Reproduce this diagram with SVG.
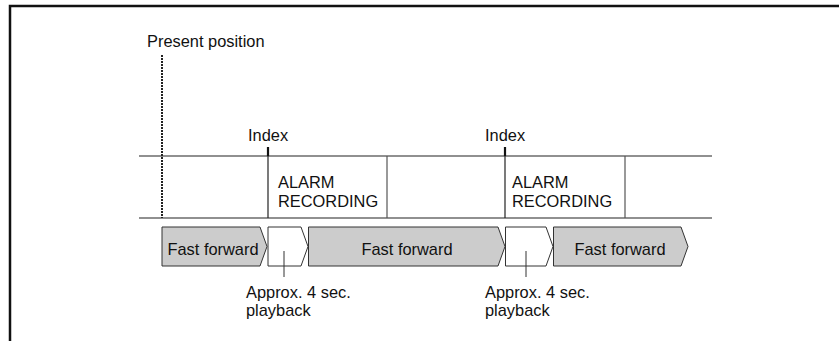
<svg xmlns="http://www.w3.org/2000/svg" width="839" height="341" viewBox="0 0 839 341">
<style>
text{font-family:"Liberation Sans",Arial,sans-serif;font-size:16.4px;fill:#111}
.ff{fill:#cccccc;stroke:#333;stroke-width:1}
.pb{fill:#fff;stroke:#333;stroke-width:1}
.ln{stroke:#222;stroke-width:1.2;fill:none}
.gl{stroke:#555;stroke-width:1.2;fill:none}
</style>
<rect width="839" height="341" fill="#fff"/>
<g id="frame"><path d="M10 341V6H839" fill="none" stroke="#111" stroke-width="2.5"/></g>
<g id="track">
<line class="ln" x1="139" y1="156" x2="712" y2="156"/>
<line class="ln" x1="139" y1="218" x2="712" y2="218"/>
<line class="gl" x1="387" y1="156" x2="387" y2="218"/>
<line class="gl" x1="625" y1="156" x2="625" y2="218"/>
</g>
<g id="present">
<text x="147" y="47">Present position</text>
<line x1="162" y1="55" x2="162" y2="218" stroke="#222" stroke-width="2" stroke-dasharray="2 1"/>
</g>
<g id="index1">
<text x="248" y="141">Index</text>
<line x1="268" y1="147" x2="268" y2="156" stroke="#111" stroke-width="2.2"/>
<line class="ln" x1="268" y1="156" x2="268" y2="218"/>
<text x="278" y="188">ALARM</text>
<text x="278" y="207">RECORDING</text>
</g>
<g id="index2">
<text x="485" y="141">Index</text>
<line x1="505" y1="147" x2="505" y2="156" stroke="#111" stroke-width="2.2"/>
<line class="ln" x1="505" y1="156" x2="505" y2="218"/>
<text x="512" y="188">ALARM</text>
<text x="512" y="207">RECORDING</text>
</g>
<g id="ff1">
<path class="ff" d="M162 227H260L267 246.5L260 266H162Z"/>
<text x="213" y="255" text-anchor="middle">Fast forward</text>
</g>
<g id="pb1">
<path class="pb" d="M268 227H301L308 246.5L301 266H268Z"/>
</g>
<g id="ff2">
<path class="ff" d="M308.5 227H498L505 246.5L498 266H308.5Z"/>
<text x="407" y="255" text-anchor="middle">Fast forward</text>
</g>
<g id="pb2">
<path class="pb" d="M505.5 227H546L553 246.5L546 266H505.5Z"/>
</g>
<g id="ff3">
<path class="ff" d="M553.5 227H681L688 246.5L681 266H553.5Z"/>
<text x="620" y="255" text-anchor="middle">Fast forward</text>
</g>
<g id="connectors">
<line x1="284" y1="251" x2="284" y2="277" stroke="#333" stroke-width="1"/>
<line x1="526" y1="251" x2="526" y2="277" stroke="#333" stroke-width="1"/>
</g>
<g id="label1">
<text x="246" y="298">Approx. 4 sec.</text>
<text x="246" y="316">playback</text>
</g>
<g id="label2">
<text x="485" y="298">Approx. 4 sec.</text>
<text x="485" y="316">playback</text>
</g>
</svg>
